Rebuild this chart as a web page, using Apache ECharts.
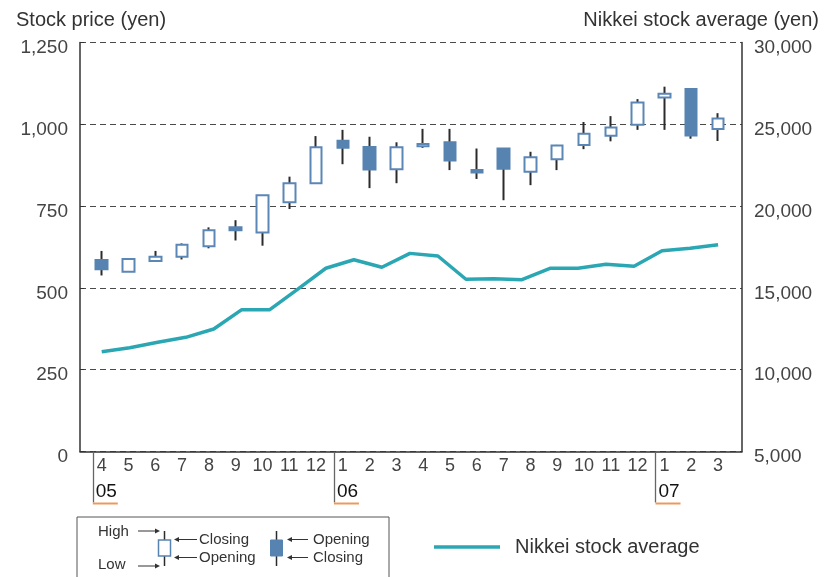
<!DOCTYPE html>
<html lang="en">
<head>
<meta charset="UTF-8">
<title>Stock price and Nikkei stock average</title>
</head>
<body style="margin:0">
<div id="main" style="width:833px;height:577px"></div>
<script src="https://cdn.jsdelivr.net/npm/echarts@6/dist/echarts.min.js"></script>
<script>
// month labels, Apr 2005 .. Mar 2007
var months = ['4', '5', '6', '7', '8', '9', '10', '11', '12', '1', '2', '3',
              '4', '5', '6', '7', '8', '9', '10', '11', '12', '1', '2', '3'];
var yearStart = [0, 9, 21];
var years = ['05', '06', '07'];

// stock price (yen)
var opening = [585, 549, 582, 595, 627, 685, 669, 762, 820, 950, 931, 863,
               933, 945, 860, 926, 855, 893, 937, 965, 999, 1082, 1108, 986];
var closing = [557, 588, 595, 632, 676, 676, 783, 820, 930, 928, 862, 930,
               940, 889, 853, 864, 899, 935, 971, 990, 1067, 1093, 966, 1018];
var lows    = [538, 549, 580, 587, 621, 645, 629, 741, 820, 878, 805, 820,
               928, 860, 833, 768, 814, 860, 924, 948, 983, 983, 956, 949];
var highs   = [613, 590, 613, 636, 685, 707, 783, 840, 964, 983, 962, 945,
               986, 986, 926, 926, 916, 937, 1007, 1025, 1077, 1115, 1110, 1034];

// Nikkei stock average (yen): 23 points spread over the same width
var nikkeiMonths = ['05-4', '05-5', '05-6', '05-7', '05-8', '05-9', '05-10', '05-11', '05-12',
                    '06-1', '06-2', '06-3', '06-4', '06-5', '06-6', '06-7', '06-8', '06-9',
                    '06-10', '06-11', '06-12', '07-1', '07-2'];
var nikkei = [11100, 11345, 11675, 11980, 12490, 13670, 13670, 14930, 16200,
              16720, 16260, 17110, 16950, 15530, 15560, 15500, 16200, 16200,
              16440, 16320, 17270, 17420, 17640];

var FONT = 'Liberation Sans, Arial, sans-serif';
var BLUE = '#5783b1';
var TEAL = '#2ba7b4';

var wicks = months.map(function (m, i) {
    return [opening[i], closing[i], lows[i], highs[i]];
});
// bodies only: no wick beyond the box
var bodies = months.map(function (m, i) {
    var lo = Math.min(opening[i], closing[i]);
    var hi = Math.max(opening[i], closing[i]);
    return [opening[i], closing[i], lo, hi];
});

function fmt(v) {
    return '{a|' + String(v).replace(/\B(?=(\d{3})+(?!\d))/g, ',') + '}';
}

function arrow(x1, x2, y) {
    var d = x2 > x1 ? 1 : -1;
    return [
        { type: 'line', shape: { x1: x1, y1: y, x2: x2 - d * 4, y2: y }, style: { stroke: '#333', lineWidth: 1 } },
        { type: 'polygon', shape: { points: [[x2, y], [x2 - d * 5, y - 2.5], [x2 - d * 5, y + 2.5]] }, style: { fill: '#333' } }
    ];
}
function label(x, y, s) {
    return { type: 'text', x: x, y: y, style: { text: s, fontSize: 15, fontFamily: FONT, fill: '#333', align: 'left', verticalAlign: 'middle' } };
}

var keyBox = [
    { type: 'rect', shape: { x: 77, y: 517, width: 312, height: 75 }, style: { fill: '#fff', stroke: '#555', lineWidth: 1 } },
    label(98, 532, 'High'),
    label(98, 565, 'Low'),
    { type: 'line', shape: { x1: 164.5, y1: 531, x2: 164.5, y2: 566 }, style: { stroke: '#2b2b2b', lineWidth: 1.5 } },
    { type: 'rect', shape: { x: 158.5, y: 540, width: 12, height: 16 }, style: { fill: '#fff', stroke: BLUE, lineWidth: 1.5 } },
    label(199, 539.5, 'Closing'),
    label(199, 557.5, 'Opening'),
    { type: 'line', shape: { x1: 276.5, y1: 531, x2: 276.5, y2: 566 }, style: { stroke: '#2b2b2b', lineWidth: 1.5 } },
    { type: 'rect', shape: { x: 270.5, y: 540, width: 12, height: 16 }, style: { fill: BLUE, stroke: BLUE, lineWidth: 1 } },
    label(313, 539.5, 'Opening'),
    label(313, 557.5, 'Closing')
].concat(arrow(138, 160, 531), arrow(138, 160, 566),
         arrow(197, 174, 539.5), arrow(197, 174, 557.5),
         arrow(308, 287, 539.5), arrow(308, 287, 557.5));

var chart = echarts.init(document.getElementById('main'));

var valueLabel = {
    margin: 12, formatter: fmt,
    rich: { a: { fontSize: 19, color: '#444', fontFamily: FONT, padding: [11, 0, 0, 0] } }
};
var yearTest = function (i) { return yearStart.indexOf(i) >= 0; };

var option = {
    animation: false,
    textStyle: { fontFamily: FONT },
    title: [
        { text: 'Stock price (yen)', left: 16, top: 10, padding: 0,
          textStyle: { fontSize: 20, fontWeight: 'normal', color: '#333', fontFamily: FONT } },
        { text: 'Nikkei stock average (yen)', right: 14, top: 10, padding: 0,
          textStyle: { fontSize: 20, fontWeight: 'normal', color: '#333', fontFamily: FONT } }
    ],
    legend: {
        data: ['Nikkei stock average'],
        left: 434, top: 537, padding: 0,
        icon: 'rect', itemWidth: 66, itemHeight: 3.5,
        textStyle: { fontSize: 20, color: '#333', fontFamily: FONT, padding: [0, 0, 0, 10] }
    },
    grid: [
        { left: 80, right: 91, top: 42.5, bottom: 125.5 },      // frame and dashed lines
        { left: 88.3, right: 101.6, top: 42.5, bottom: 125.5 }, // candles, month labels
        { left: 79.4, right: 110.5, top: 42.5, bottom: 125.5 }, // year markers
        { left: 101.7, right: 114.9, top: 42.5, bottom: 125.5 } // Nikkei line
    ],
    xAxis: [
        { gridIndex: 0, type: 'value', min: 0, max: 1,
          axisLine: { show: true, lineStyle: { color: '#333', width: 1.5 } },
          axisTick: { show: false }, axisLabel: { show: false }, splitLine: { show: false } },
        { gridIndex: 1, type: 'category', data: months, boundaryGap: true,
          axisLine: { show: false }, axisTick: { show: false },
          axisLabel: { interval: 0, margin: 6, fontSize: 18, color: '#444', fontFamily: FONT } },
        { gridIndex: 2, type: 'category', data: months, boundaryGap: true,
          axisLine: { show: false },
          axisTick: { show: true, length: 51, alignWithLabel: true, interval: yearTest,
              lineStyle: { color: '#666', width: 1.3 } },
          axisLabel: {
              margin: 29, align: 'left', interval: yearTest,
              formatter: function (v, i) {
                  var k = yearStart.indexOf(i);
                  return k < 0 ? '' : '{s| }{y|' + years[k] + '}\n{u| }';
              },
              rich: {
                  s: { width: 3, fontSize: 2 },
                  y: { fontSize: 19, color: '#111', fontFamily: FONT, lineHeight: 22 },
                  u: { width: 25, height: 2, lineHeight: 2, fontSize: 2, backgroundColor: '#ec9a5c' }
              }
          } },
        { gridIndex: 3, type: 'category', data: nikkeiMonths, boundaryGap: false, show: false }
    ],
    yAxis: [
        { gridIndex: 0, type: 'value', position: 'left', min: 0, max: 1250, interval: 250,
          axisLine: { show: true, lineStyle: { color: '#333', width: 1.5 } },
          axisTick: { show: true, inside: true, length: 4, lineStyle: { color: '#333' } },
          axisLabel: valueLabel,
          splitLine: { show: true, lineStyle: { color: '#4a4a4a', type: [6, 4], width: 1.2 } } },
        { gridIndex: 0, type: 'value', position: 'right', min: 5000, max: 30000, interval: 5000,
          axisLine: { show: true, lineStyle: { color: '#333', width: 1.5 } },
          axisTick: { show: false },
          axisLabel: valueLabel,
          splitLine: { show: false } },
        { gridIndex: 1, type: 'value', min: 0, max: 1250, show: false },
        { gridIndex: 2, type: 'value', show: false },
        { gridIndex: 3, type: 'value', min: 5000, max: 30000, show: false }
    ],
    series: [
        {
            name: 'wicks', type: 'candlestick', xAxisIndex: 1, yAxisIndex: 2,
            data: wicks, barWidth: 1,
            itemStyle: { color: '#2b2b2b', color0: '#2b2b2b', borderColor: '#2b2b2b', borderColor0: '#2b2b2b', borderWidth: 2 },
            emphasis: { disabled: true }
        },
        {
            name: 'bodies', type: 'candlestick', xAxisIndex: 1, yAxisIndex: 2,
            data: bodies, barWidth: 12,
            itemStyle: { color: '#fff', color0: BLUE, borderColor: '#5b87b6', borderColor0: BLUE, borderWidth: 2 },
            emphasis: { disabled: true }
        },
        {
            name: 'Nikkei stock average', type: 'line', xAxisIndex: 3, yAxisIndex: 4,
            data: nikkei, symbol: 'none',
            lineStyle: { color: TEAL, width: 3.5 }, itemStyle: { color: TEAL },
            emphasis: { disabled: true }
        }
    ],
    graphic: keyBox
};

chart.setOption(option);
</script>
</body>
</html>
